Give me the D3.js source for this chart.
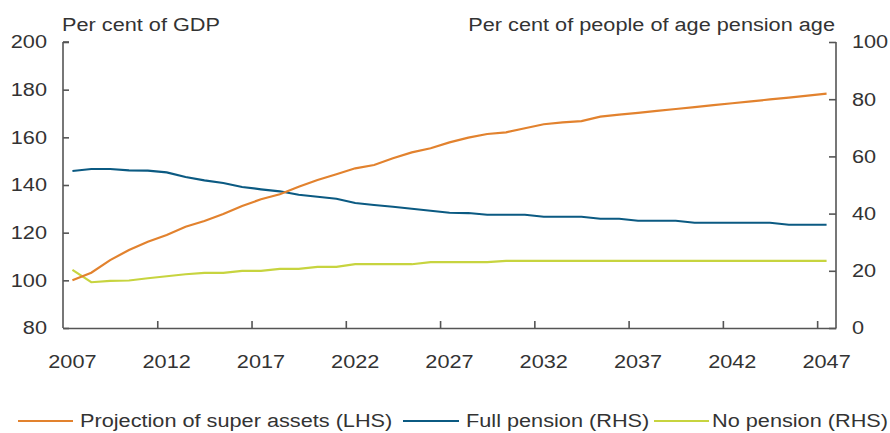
<!DOCTYPE html>
<html><head><meta charset="utf-8">
<script src="https://cdn.jsdelivr.net/npm/d3@7"></script>
<style>
html,body{margin:0;padding:0;background:#fff;}
text{font-family:"Liberation Sans",Arial,sans-serif;fill:#333;}
</style></head>
<body><svg id="c" width="890" height="433"></svg>
<script>
const years = d3.range(2007, 2048);
const superAssets = [100,103.2,108.5,112.7,116.2,119,122.5,124.9,127.8,131.2,134,136.1,139.3,142.1,144.5,147,148.4,151.2,153.7,155.4,157.9,159.9,161.4,162.1,163.8,165.5,166.3,166.8,168.7,169.5,170.3,171.1,171.9,172.7,173.5,174.3,175.1,175.9,176.7,177.5,178.3];
const fullPension = [54.9,55.6,55.6,55.1,55,54.4,52.8,51.6,50.7,49.3,48.5,47.8,46.6,45.9,45.2,43.7,43,42.4,41.7,41,40.3,40.2,39.6,39.6,39.6,38.9,38.9,38.9,38.2,38.2,37.5,37.5,37.5,36.8,36.8,36.8,36.8,36.8,36.1,36.1,36.1];
const noPension = [20.3,16,16.5,16.6,17.4,18.1,18.8,19.3,19.3,20,20,20.7,20.7,21.4,21.4,22.3,22.3,22.3,22.3,23,23,23,23,23.5,23.5,23.5,23.5,23.5,23.5,23.5,23.5,23.5,23.5,23.5,23.5,23.5,23.5,23.5,23.5,23.5,23.5];
const xTickYears = [2007,2012,2017,2022,2027,2032,2037,2042,2047];
const leftTicks = [80,100,120,140,160,180,200];
const rightTicks = [0,20,40,60,80,100];
const leftTitle = "Per cent of GDP";
const rightTitle = "Per cent of people of age pension age";
const legendItems = [
  {name:"Projection of super assets (LHS)", color:"#E2822E"},
  {name:"Full pension (RHS)", color:"#0B5A82"},
  {name:"No pension (RHS)", color:"#C7D43F"}
];

const svg = d3.select("#c");
const L = 63, R = 836, T = 42, B = 328;
const FS = 18.6, SX = 1.167;

const xBand = d3.scaleBand().domain(years).range([L, R]);
const xc = y => xBand(y) + xBand.bandwidth()/2;
const yL = d3.scaleLinear().domain([80,200]).range([B,T]);
const yR = d3.scaleLinear().domain([0,100]).range([B,T]);

const axisColor = "#555";

// left axis
const gL = svg.append("g").attr("transform",`translate(${L},0)`)
  .call(d3.axisLeft(yL).tickValues(leftTicks).tickSizeInner(-6).tickSizeOuter(0).tickPadding(16));
// right axis
const gR = svg.append("g").attr("transform",`translate(${R},0)`)
  .call(d3.axisRight(yR).tickValues(rightTicks).tickSizeInner(-7).tickSizeOuter(0).tickPadding(16));
// bottom axis: ticks at category left edges
const xEdge = d3.scaleLinear().domain([2007,2048]).range([L,R]);
const gB = svg.append("g").attr("transform",`translate(0,${B})`)
  .call(d3.axisBottom(xEdge).tickValues(xTickYears.slice(1)).tickSizeInner(-7).tickSizeOuter(0).tickFormat(""));
[gL,gR,gB].forEach(g=>{
  g.selectAll("path,line").attr("stroke",axisColor).attr("stroke-width",1.6);
  g.selectAll("text").attr("font-size",FS).attr("fill","#333").attr("font-family","Liberation Sans, Arial, sans-serif");
});
gL.select("path.domain").attr("d",`M0,${T}V${B}`);
gR.select("path.domain").attr("d",`M0,${T}V${B}`);
// top tick caps
gL.append("line").attr("x1",0).attr("x2",6).attr("y1",T).attr("y2",T).attr("stroke",axisColor).attr("stroke-width",1.6);

// x labels centered on category
svg.append("g").selectAll("text").data(xTickYears).join("text")
  .attr("x", d=>xc(d)).attr("y", 368).attr("text-anchor","middle").attr("font-size",FS).text(d=>d);

// titles
svg.append("text").attr("x",62).attr("y",31.5).attr("font-size",FS).text(leftTitle);
svg.append("text").attr("x",835).attr("y",31.5).attr("text-anchor","end").attr("font-size",FS).text(rightTitle);

// lines
const lineL = d3.line().x((d,i)=>xc(years[i])).y(d=>yL(d));
const lineR = d3.line().x((d,i)=>xc(years[i])).y(d=>yR(d));
const plot = svg.append("g");
plot.append("path").attr("d",lineR(noPension)).attr("fill","none").attr("stroke",legendItems[2].color).attr("stroke-width",2.2);
plot.append("path").attr("d",lineR(fullPension)).attr("fill","none").attr("stroke",legendItems[1].color).attr("stroke-width",2.2);
plot.append("path").attr("d",lineL(superAssets)).attr("fill","none").attr("stroke",legendItems[0].color).attr("stroke-width",2.2);

// legend
const legPos = [{x1:18,x2:73,tx:80},{x1:403,x2:459,tx:466},{x1:654,x2:709,tx:712}];
const leg = svg.append("g");
legendItems.forEach((d,i)=>{
  leg.append("line").attr("x1",legPos[i].x1).attr("x2",legPos[i].x2).attr("y1",421).attr("y2",421)
    .attr("stroke",d.color).attr("stroke-width",2.2);
  leg.append("text").attr("x",legPos[i].tx).attr("y",427.5).attr("font-size",FS).text(d.name);
});

// horizontally stretch all text about its anchor
svg.selectAll("text").each(function(){
  const t = d3.select(this);
  const x = +t.attr("x") || 0, y = +t.attr("y") || 0;
  t.attr("transform",`translate(${x},${y}) scale(${SX},1) translate(${-x},${-y})`);
});
</script></body></html>
